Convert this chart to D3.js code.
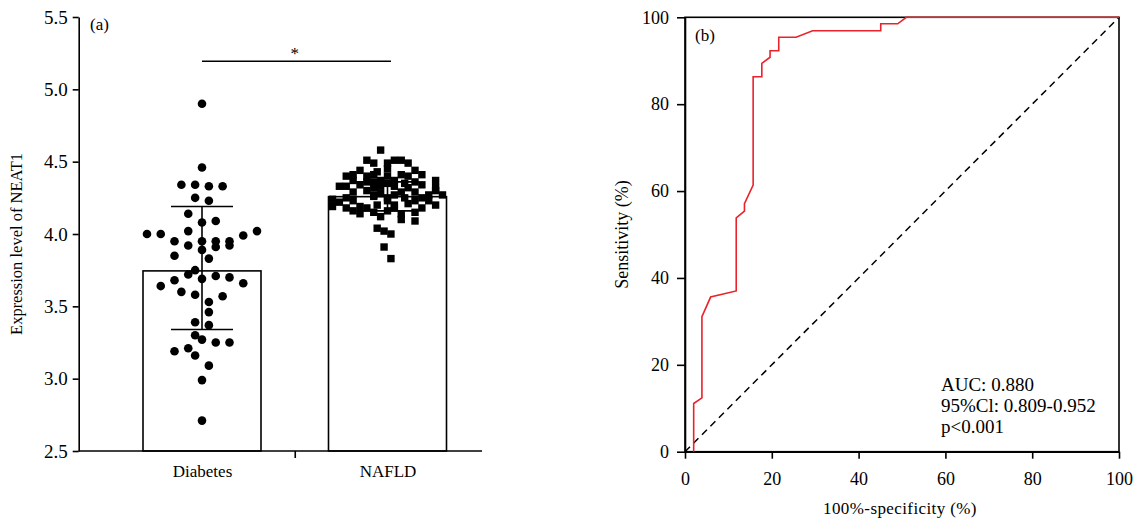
<!DOCTYPE html>
<html>
<head>
<meta charset="utf-8">
<script src="https://cdn.jsdelivr.net/npm/d3@7"></script>
<style>
  body { margin: 0; background: white; }
  text { font-family: "Liberation Serif", "Times New Roman", serif; fill: black; }
</style>
</head>
<body>
<div id="graph"></div>
<script>
// panel (a) data
const groups = ['Diabetes', 'NAFLD'];
const groupMeans = [3.745, 4.258];
const groupErrHigh = [4.19, 4.36];
const groupErrLow = [3.34, 4.16];

const diabetesValues = [4.90, 4.46, 4.34, 4.34, 4.33, 4.33, 4.25, 4.23, 4.14, 4.09, 4.08,
    4.00, 4.00, 4.02, 4.02, 3.99, 3.95, 3.95, 3.95, 3.95, 3.92, 3.91, 3.92, 3.89, 3.85, 3.83,
    3.75, 3.72, 3.71, 3.70, 3.68, 3.69, 3.64, 3.66, 3.60, 3.58, 3.57, 3.53, 3.46, 3.39, 3.37,
    3.30, 3.27, 3.25, 3.25, 3.19, 3.21, 3.16, 3.09, 2.99, 2.71];
// jitter slot of each dot (column index of the scatter)
const diabetesSlots = [0, 0, -3, -1, 1, 3, -1, 1, -2, 2, 0,
    -8, -6, -2, 8, 6, -4, 0, 2, 4, -2, 2, 4, 0, -4, 1,
    -1, -2, 2, 4, -4, 0, -6, 6, -3, -1, 3, 1, 1, -1, 1,
    -1, 0, 2, 4, -4, -2, -1, 1, 0, 0];

const nafldValues = [4.58, 4.51, 4.49, 4.49, 4.51, 4.51, 4.49, 4.45,
    4.40, 4.41, 4.40, 4.41, 4.40, 4.41, 4.40, 4.41, 4.44, 4.44, 4.43,
    4.37, 4.36, 4.37, 4.37, 4.36, 4.37, 4.35, 4.35, 4.36,
    4.33, 4.33, 4.34, 4.32, 4.33, 4.33, 4.32, 4.34, 4.32,
    4.29, 4.30, 4.28, 4.29, 4.29, 4.30, 4.27, 4.27, 4.27,
    4.24, 4.25, 4.26, 4.25, 4.25, 4.25, 4.27, 4.23, 4.23, 4.23,
    4.19, 4.22, 4.19, 4.20, 4.20, 4.21, 4.23, 4.20,
    4.16, 4.14, 4.15, 4.16, 4.14, 4.15, 4.18, 4.18, 4.18, 4.18,
    4.12, 4.10, 4.09, 4.04, 4.02, 4.00, 3.91, 3.83];
const nafldSlots = [-1, -3, -2, 0, 1, 2, 3, 0,
    -6, -5, -3, -2, 0, 2, 3, 5, -4, 4, -1.5,
    -5, -3, -1, 1, 4, 7, 0, 2.5, -2,
    -7, -6, -4, -2, -1, 1, 3, 5, 7,
    -5, -3, -1, 2, 4, 7, -2, 1, 6,
    -8, -6, -2, 0, 2.5, 5, 8, -5, 0, 4,
    -8, -7, -4, -1.5, 1, 3, 6, 7,
    -5, -4, -2, 0, 2, 4, -6, -3, 1, 5,
    -1, 2, 4, -1.5, -0.5, 0.5, -0.5, 0.5];

const yTicksA = [2.5, 3.0, 3.5, 4.0, 4.5, 5.0, 5.5];

// panel (b) data: ROC curve in percent
const rocFpr = [2, 2, 3.9, 3.9, 5.9, 11.8, 11.8, 13.7, 13.7, 15.7, 15.7, 17.7, 17.7, 19.6, 19.6,
    21.6, 21.6, 25.6, 29.4, 45.1, 45.1, 49.0, 51.0, 100];
const rocTpr = [0, 11.1, 12.4, 31.1, 35.6, 37.0, 53.8, 55.4, 57.1, 61.4, 86.3, 86.3, 89.4, 90.8, 92.3,
    92.3, 95.4, 95.4, 96.9, 96.9, 98.5, 98.5, 100, 100];
const rocTicks = [0, 20, 40, 60, 80, 100];
const rocStats = ['AUC: 0.880', '95%Cl: 0.809-0.952', 'p<0.001'];

const w = 1136;
const h = 523;

const svg = d3.select('#graph')
    .append('svg')
    .attr('width', w)
    .attr('height', h);

svg.append('rect').attr('width', w).attr('height', h).attr('fill', 'white');

// ---------- panel (a) ----------
const aLeft = 78.7, aRight = 482, aTop = 17, aBottom = 451;
const barW = 118;

const yA = d3.scaleLinear([2.5, 5.5], [aBottom, aTop]);
const xA = d3.scalePoint(groups, [202, 387.5]);
const slotX = d3.scaleLinear([-8, 8], [-55, 55]);

const ga = svg.append('g');

ga.selectAll('rect.bar')
    .data(groups)
    .join('rect')
    .attr('class', 'bar')
    .attr('x', d => xA(d) - barW / 2)
    .attr('y', (d, i) => yA(groupMeans[i]))
    .attr('width', barW)
    .attr('height', (d, i) => aBottom - yA(groupMeans[i]))
    .attr('fill', 'white')
    .attr('stroke', 'black')
    .attr('stroke-width', 1.6);

ga.selectAll('circle.dia')
    .data(diabetesValues)
    .join('circle')
    .attr('class', 'dia')
    .attr('cx', (d, i) => xA('Diabetes') + slotX(diabetesSlots[i]))
    .attr('cy', d => yA(d))
    .attr('r', 4.3)
    .attr('fill', 'black');

const sq = 7.4;
ga.selectAll('rect.naf')
    .data(nafldValues)
    .join('rect')
    .attr('class', 'naf')
    .attr('x', (d, i) => xA('NAFLD') + slotX(nafldSlots[i]) - sq / 2)
    .attr('y', d => yA(d) - sq / 2)
    .attr('width', sq)
    .attr('height', sq)
    .attr('fill', 'black');

// error bars
groups.forEach((g, i) => {
    const cx = xA(g);
    const hi = yA(groupErrHigh[i]);
    const lo = yA(groupErrLow[i]);
    const eb = ga.append('g').attr('stroke', 'black').attr('stroke-width', 1.6);
    eb.append('line').attr('x1', cx).attr('x2', cx).attr('y1', hi).attr('y2', lo);
    eb.append('line').attr('x1', cx - 31).attr('x2', cx + 31).attr('y1', hi).attr('y2', hi);
    eb.append('line').attr('x1', cx - 31).attr('x2', cx + 31).attr('y1', lo).attr('y2', lo);
});

const yAxisA = d3.axisLeft(yA)
    .tickValues(yTicksA)
    .tickFormat(d3.format('.1f'))
    .tickSize(6)
    .tickSizeOuter(0)
    .tickPadding(5);

ga.append('g')
    .attr('transform', 'translate(' + aLeft + ',0)')
    .call(yAxisA)
    .call(g => g.selectAll('.tick text').attr('font-size', 19).attr('font-family', null))
    .call(g => g.selectAll('line, path').attr('stroke-width', 1.6));

// x axis: baseline with a tick between the groups
ga.append('line')
    .attr('x1', aLeft).attr('x2', aRight)
    .attr('y1', aBottom).attr('y2', aBottom)
    .attr('stroke', 'black').attr('stroke-width', 1.6);
ga.append('line')
    .attr('x1', (xA('Diabetes') + xA('NAFLD')) / 2 + 0.5)
    .attr('x2', (xA('Diabetes') + xA('NAFLD')) / 2 + 0.5)
    .attr('y1', aBottom).attr('y2', aBottom + 7)
    .attr('stroke', 'black').attr('stroke-width', 1.6);

ga.append('g')
    .attr('transform', 'translate(0,' + aBottom + ')')
    .call(d3.axisBottom(xA).tickSize(0).tickPadding(14))
    .call(g => g.select('.domain').remove())
    .call(g => g.selectAll('.tick text').attr('font-size', 17).attr('font-family', null));

ga.append('text')
    .text('Expression level of NEAT1')
    .attr('transform', 'translate(22,' + ((aTop + aBottom) / 2 + 10) + ') rotate(-90)')
    .attr('text-anchor', 'middle')
    .attr('font-size', 16.5);

ga.append('text')
    .text('(a)')
    .attr('x', 90)
    .attr('y', 30)
    .attr('font-size', 17);

// significance bracket
ga.append('line')
    .attr('x1', xA('Diabetes')).attr('x2', xA('NAFLD') + 3.5)
    .attr('y1', 61.3).attr('y2', 61.3)
    .attr('stroke', 'black').attr('stroke-width', 1.4);
ga.append('text')
    .text('*')
    .attr('x', (xA('Diabetes') + xA('NAFLD')) / 2)
    .attr('y', 59)
    .attr('text-anchor', 'middle')
    .attr('font-size', 17);

// ---------- panel (b) ----------
const bLeft = 685, bRight = 1119, bTop = 17.3, bBottom = 451.7;

const xB = d3.scaleLinear([0, 100], [bLeft, bRight]);
const yB = d3.scaleLinear([0, 100], [bBottom, bTop]);

const gb = svg.append('g');

// frame
gb.append('rect')
    .attr('x', bLeft).attr('y', bTop)
    .attr('width', bRight - bLeft).attr('height', bBottom - bTop)
    .attr('fill', 'none')
    .attr('stroke', 'black')
    .attr('stroke-width', 1.6);

gb.append('g')
    .attr('transform', 'translate(0,' + bBottom + ')')
    .call(d3.axisBottom(xB).tickValues(rocTicks).tickSize(7).tickSizeOuter(0).tickPadding(14))
    .call(g => g.selectAll('.tick text').attr('font-size', 18).attr('font-family', null))
    .call(g => g.selectAll('line, path').attr('stroke-width', 1.6));

gb.append('g')
    .attr('transform', 'translate(' + bLeft + ',0)')
    .call(d3.axisLeft(yB).tickValues(rocTicks).tickSize(8).tickSizeOuter(0).tickPadding(8))
    .call(g => g.selectAll('.tick text').attr('font-size', 18).attr('font-family', null))
    .call(g => g.selectAll('line, path').attr('stroke-width', 1.6));

// reference diagonal
gb.append('path')
    .attr('d', d3.line().x(d => xB(d)).y(d => yB(d))([0, 100]))
    .attr('fill', 'none')
    .attr('stroke', 'black')
    .attr('stroke-width', 1.5)
    .attr('stroke-dasharray', '7,5');

const roc = rocFpr.map((f, i) => ({ fpr: f, tpr: rocTpr[i] }));
gb.append('path')
    .attr('d', d3.line().x(d => xB(d.fpr)).y(d => yB(d.tpr))(roc))
    .attr('fill', 'none')
    .attr('stroke', '#e8232b')
    .attr('stroke-width', 1.6);

gb.append('text')
    .text('(b)')
    .attr('x', 695)
    .attr('y', 41)
    .attr('font-size', 17);

gb.selectAll('text.stat')
    .data(rocStats)
    .join('text')
    .attr('class', 'stat')
    .text(d => d)
    .attr('x', 941)
    .attr('y', (d, i) => 391 + i * 21)
    .attr('font-size', 19);

gb.append('text')
    .text('100%-specificity (%)')
    .attr('x', (bLeft + bRight) / 2 - 2)
    .attr('y', 514)
    .attr('text-anchor', 'middle')
    .attr('font-size', 17)
    .attr('letter-spacing', 0.4);

gb.append('text')
    .text('Sensitivity (%)')
    .attr('transform', 'translate(628,' + ((bTop + bBottom) / 2) + ') rotate(-90)')
    .attr('text-anchor', 'middle')
    .attr('font-size', 18);
</script>
</body>
</html>
